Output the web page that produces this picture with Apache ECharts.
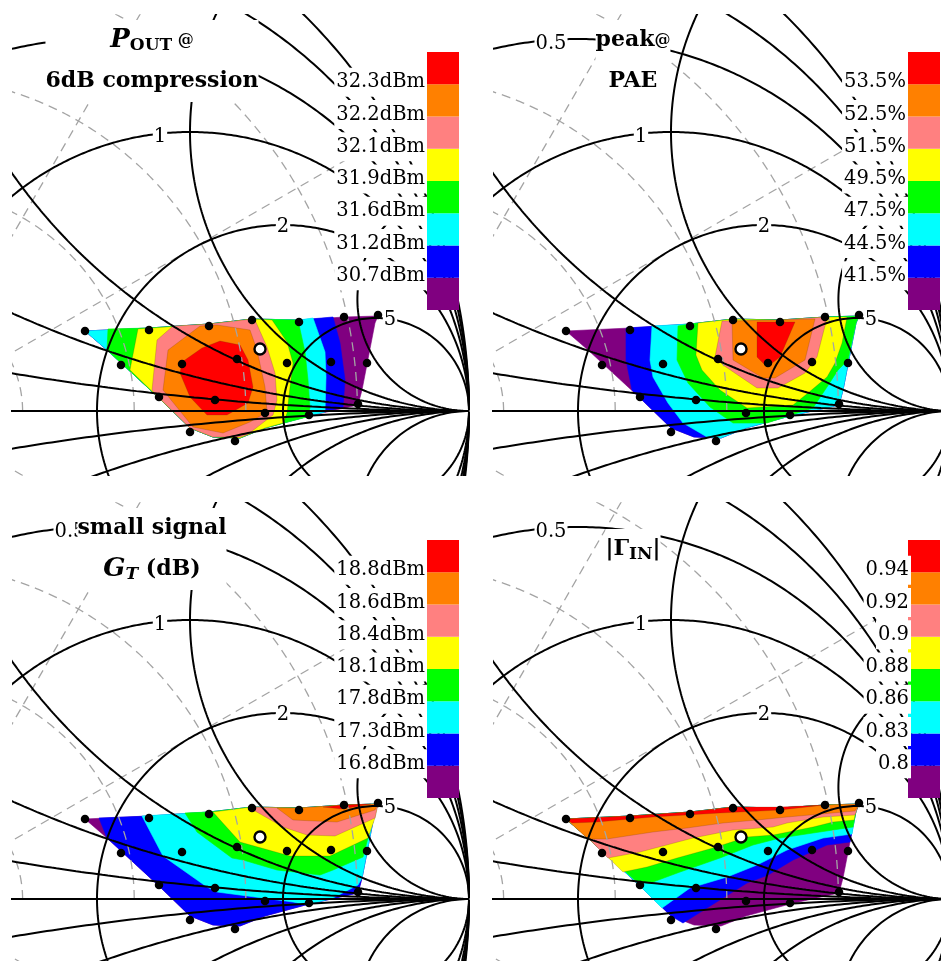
<!DOCTYPE html>
<html><head><meta charset="utf-8">
<script src="https://cdn.jsdelivr.net/npm/echarts@6/dist/echarts.min.js"></script>
<style>html,body{margin:0;background:#fff;overflow:hidden}#c{width:970px;height:970px}</style>
</head><body><div id="c"></div>
<script>
// Reflection-plane units: |Gamma| = 1 corresponds to UNIT on both axes.
const UNIT = 558;
const bandColors = ['#800080','#0000ff','#00ffff','#00ff00','#ffff00','#ff8080','#ff8000','#ff0000'];
const resistances = [0,0.2,0.5,1,2,5];
const reactances = [0.2,0.5,1,2,5];
const gammaCircles = [0.2,0.4,0.6,0.8];
const gammaAngles = [30,60,-30,-60];
const smithLabels = [['0.5',159,367],['1',249,274],['2',372,184],['5',479,91]];
const tuningPoints = [[174,80],[238,81],[298,85],[341,91],[388,89],[433,94],[467,96],[210,46],[271,47],[326,52],[376,48],[420,49],[456,48],[248,14],[304,11],[354,-2],[398,-4],[447,7],[279,-21],[324,-30]];
const optimumPoint = [349,62];
const hull = [[174,80],[238,83],[298,87],[341,92],[388,91],[433,94],[467,95],[464,88],[451,21],[447,6],[398,-5],[354,-17],[329,-27],[302,-26],[279,-17],[248,13],[196,61]];

const poutLabels = ['30.7dBm','31.2dBm','31.6dBm','31.9dBm','32.1dBm','32.2dBm','32.3dBm'];
const paeLabels = ['41.5%','44.5%','47.5%','49.5%','51.5%','52.5%','53.5%'];
const gtLabels = ['16.8dBm','17.3dBm','17.8dBm','18.1dBm','18.4dBm','18.6dBm','18.8dBm'];
const gammaLabels = ['0.8','0.83','0.86','0.88','0.9','0.92','0.94'];

const poutBands = [hull,
 [[174,80],[238,83],[298,87],[341,92],[388,91],[422,94],[429,68],[434,31],[432,4],[398,-5],[354,-17],[329,-27],[302,-26],[279,-17],[248,13],[196,61]],
 [[174,80],[238,83],[298,87],[341,92],[388,91],[402,93],[414,59],[415,34],[414,-1],[398,-5],[354,-17],[329,-27],[302,-26],[279,-17],[248,13],[196,61]],
 [[197,82],[238,83],[298,87],[341,92],[387,91],[394,59],[397,31],[399,3],[396,-6],[354,-17],[329,-27],[302,-26],[279,-17],[248,13],[196,61]],
 [[227,82],[298,87],[341,92],[361,91],[376,69],[382,48],[379,24],[376,-2],[372,-12],[354,-17],[329,-27],[302,-26],[279,-17],[248,13],[219,41]],
 [[262,85],[298,87],[341,92],[344,91],[356,64],[364,38],[366,11],[362,-4],[336,-24],[329,-26],[302,-26],[279,-17],[248,13],[241,21],[246,71]],
 [[289,85],[257,61],[252,21],[282,-16],[312,-22],[339,-11],[356,-1],[354,24],[346,61],[339,81],[306,86]],
 [[309,70],[291,63],[271,49],[269,38],[279,14],[296,-4],[316,-4],[337,8],[342,24],[337,51],[329,66]]];
const paeBands = [hull,
 [[234,83],[298,87],[341,92],[388,91],[433,94],[467,95],[464,88],[451,21],[447,6],[398,-5],[354,-17],[329,-27],[302,-26],[279,-17],[248,13],[240,21],[234,51]],
 [[260,85],[298,87],[341,92],[388,91],[433,94],[467,95],[464,88],[451,21],[447,6],[398,-5],[354,-17],[329,-27],[315,-26],[291,-12],[276,8],[261,34],[258,51]],
 [[286,85],[298,87],[341,92],[388,91],[433,94],[467,95],[464,88],[456,51],[446,41],[435,24],[421,3],[375,-12],[341,-12],[318,4],[296,28],[285,51]],
 [[306,88],[341,92],[388,91],[433,94],[455,94],[450,68],[443,48],[435,34],[416,18],[401,6],[355,3],[328,21],[310,41],[304,56]],
 [[330,90],[388,91],[433,94],[435,93],[425,54],[413,38],[386,23],[365,23],[331,46],[323,54]],
 [[340,90],[388,91],[423,92],[413,51],[383,33],[371,33],[341,51]],
 [[365,89],[403,89],[388,54],[375,44],[365,54]]];
const gtBands = [hull,
 [[188,81],[238,83],[298,87],[341,92],[388,91],[433,94],[467,95],[464,88],[451,21],[447,6],[398,-5],[354,-17],[329,-27],[302,-26],[279,-17],[248,13],[196,61]],
 [[231,83],[298,87],[341,92],[388,91],[433,94],[467,95],[464,88],[451,21],[447,14],[422,1],[396,-6],[382,-3],[306,7],[296,12],[252,43]],
 [[274,86],[298,87],[341,92],[388,91],[433,94],[467,95],[464,88],[457,61],[452,42],[422,29],[409,24],[366,29],[332,39],[321,41],[286,67]],
 [[302,87],[341,92],[388,91],[433,94],[467,95],[464,81],[457,61],[419,43],[379,43],[329,57]],
 [[337,92],[388,91],[433,94],[467,95],[464,81],[424,63],[396,64],[372,72]],
 [[366,91],[388,91],[433,94],[467,95],[464,89],[426,77],[382,79]],
 [[412,92],[433,94],[460,95],[431,90]]];
const gammaBands = [hull,
 [[174,80],[238,83],[298,87],[341,92],[388,91],[433,94],[467,95],[464,88],[458,57],[435,54],[401,39],[376,24],[355,16],[291,-24],[279,-17],[248,13],[196,61]],
 [[174,80],[238,83],[298,87],[341,92],[388,91],[433,94],[467,95],[464,88],[460,65],[431,61],[395,49],[365,34],[335,22],[298,11],[270,-9],[248,13],[196,61]],
 [[174,80],[238,83],[298,87],[341,92],[388,91],[433,94],[467,95],[464,88],[461,72],[421,66],[388,61],[361,54],[328,41],[288,27],[261,17],[246,16],[196,61]],
 [[174,80],[238,83],[298,87],[341,92],[388,91],[433,94],[467,95],[464,88],[462,79],[441,77],[421,72],[381,64],[355,62],[321,51],[285,41],[255,32],[231,27],[196,61]],
 [[174,80],[238,83],[298,87],[341,92],[388,91],[433,94],[467,95],[463,84],[431,82],[395,76],[381,72],[341,69],[301,61],[248,47],[216,41],[196,61]],
 [[174,80],[238,83],[298,87],[341,92],[388,91],[433,94],[467,95],[463,88],[395,82],[365,79],[331,76],[295,71],[261,67],[215,60],[196,60]],
 [[174,80],[238,83],[298,87],[341,92],[388,92],[433,94],[388,89],[328,86],[261,82],[205,77],[180,76]]];

const FONT = '"DejaVu Serif"';
const titleRich = {
  b:{fontFamily:FONT,fontWeight:'bold',fontSize:22,lineHeight:41,color:'#000'},
  i:{fontFamily:FONT,fontWeight:'bold',fontStyle:'italic',fontSize:26,lineHeight:41,color:'#000'},
  s:{fontFamily:FONT,fontWeight:'bold',fontSize:17,lineHeight:41,color:'#000',padding:[10,0,0,0]},
  si:{fontFamily:FONT,fontWeight:'bold',fontStyle:'italic',fontSize:17,lineHeight:41,color:'#000',padding:[10,0,0,0]},
  a:{fontFamily:FONT,fontWeight:'bold',fontSize:16,lineHeight:41,color:'#000'}
};
const panels = [
 {dx:0,dy:0,bands:poutBands,labels:poutLabels,title:'{i|P}{s|OUT}{a| @}\n{b|6dB compression}',lx:0},
 {dx:481,dy:0,bands:paeBands,labels:paeLabels,title:'{b|peak}{a|@}\n{b|PAE}',lx:0},
 {dx:0,dy:488,bands:gtBands,labels:gtLabels,title:'{b|small signal}\n{i|G}{si|T}{b| (dB)}',lx:0},
 {dx:481,dy:488,bands:gammaBands,labels:gammaLabels,title:'{b||Γ}{s|IN}{b||}',lx:3}
];

function gamma(r,x){const d=(r+1)*(r+1)+x*x;return [(r*r+x*x-1)/d*UNIT,2*x/d*UNIT];}
function rCircle(r){const p=[];for(let i=-719;i<=719;i++){const t=i/720*Math.PI/2;p.push(gamma(r,(1+r)*Math.tan(t)));}return p;}
function xArc(x){const p=[];for(let i=0;i<=719;i++){const t=i/720*Math.PI/2;p.push(gamma(Math.abs(x)*Math.tan(t),x));}p.push([UNIT,0]);return p;}
function gCircle(g){const p=[];for(let i=0;i<=720;i++){const t=i/4*Math.PI/180;p.push([g*UNIT*Math.cos(t),g*UNIT*Math.sin(t)]);}return p;}
function radial(a){const t=a*Math.PI/180;return [[0,0],[UNIT*Math.cos(t),UNIT*Math.sin(t)]];}

const grid=[],xAxis=[],yAxis=[],series=[],title=[];
const base={type:'line',symbol:'none',silent:true,animation:false,smooth:false};
panels.forEach((p,k)=>{
  const g=grid.length, cb=g+1;
  grid.push({left:13+p.dx,top:15+p.dy,width:456,height:460,containLabel:false});
  grid.push({left:427+p.dx,top:52+p.dy,width:32,height:258,containLabel:false});
  xAxis.push({type:'value',gridIndex:g,min:102,max:558,show:false});
  yAxis.push({type:'value',gridIndex:g,min:-64,max:396,show:false});
  xAxis.push({type:'value',gridIndex:cb,min:0,max:1,show:false});
  yAxis.push({type:'value',gridIndex:cb,min:0,max:8,show:false});
  const ax={xAxisIndex:g,yAxisIndex:g};
  p.bands.forEach((pts,i)=>{
    series.push({type:'custom',...ax,z:1+i*0.01,silent:true,animation:false,clip:true,data:pts,encode:{x:0,y:1},
      renderItem:(params,api)=>{
        if(params.dataIndex!==pts.length-1) return null;
        return {type:'polygon',shape:{points:pts.map(q=>api.coord(q))},
          style:{fill:bandColors[i],stroke:i>3?'rgba(90,50,0,0.35)':bandColors[i],lineWidth:0.6}};
      }});
  });
  const dashed={color:'#a4a4a4',width:1.3,type:[9,6]};
  gammaCircles.forEach(c=>series.push({...base,...ax,z:2,data:gCircle(c),lineStyle:dashed}));
  gammaAngles.forEach(a=>series.push({...base,...ax,z:2,data:radial(a),lineStyle:dashed}));
  const solid={color:'#000',width:2};
  resistances.forEach(r=>series.push({...base,...ax,z:3,data:rCircle(r),lineStyle:solid}));
  reactances.forEach(x=>{
    series.push({...base,...ax,z:3,data:xArc(x),lineStyle:solid});
    series.push({...base,...ax,z:3,data:xArc(-x),lineStyle:solid});
  });
  series.push({...base,...ax,z:3,data:[[-UNIT,0],[UNIT,0]],lineStyle:{color:'#000',width:2.2}});
  series.push({type:'scatter',...ax,z:5,silent:true,animation:false,symbolSize:0,clip:false,itemStyle:{opacity:1},
    data:smithLabels.map(l=>({name:l[0],value:[l[1],l[2]]})),
    label:{show:true,position:'inside',formatter:'{b}',fontFamily:FONT,fontSize:19.5,color:'#000',backgroundColor:'#fff',padding:[0,1,0,1]}});
  series.push({type:'scatter',...ax,z:6,silent:true,animation:false,symbolSize:8.5,data:tuningPoints,itemStyle:{color:'#000',opacity:1}});
  series.push({type:'scatter',...ax,z:7,silent:true,animation:false,symbolSize:11,data:[optimumPoint],itemStyle:{color:'#fff',borderColor:'#000',borderWidth:2.4,opacity:1}});
  // colour bar
  series.push({type:'custom',xAxisIndex:cb,yAxisIndex:cb,z:8,silent:true,animation:false,clip:false,
    data:bandColors.map((c,i)=>[0,i]),encode:{x:0,y:1},
    renderItem:(params,api)=>{
      const i=params.dataIndex,a=api.coord([0,i+1]),b=api.coord([1,i]);
      return {type:'rect',shape:{x:a[0],y:a[1],width:b[0]-a[0],height:b[1]-a[1]},style:{fill:bandColors[i]}};
    }});
  series.push({type:'scatter',xAxisIndex:cb,yAxisIndex:cb,z:9,silent:true,animation:false,symbolSize:0,clip:false,itemStyle:{opacity:1},
    data:p.labels.map((t,i)=>({name:t,value:[0,i+1]})),
    label:{show:true,position:'left',distance:0,offset:[p.lx,-2],formatter:'{b}',fontFamily:FONT,fontSize:19.5,color:'#000',
      backgroundColor:'#fff',lineHeight:29,height:29,padding:[0,2,0,2]}});
  title.push({text:p.title,left:152+p.dx,top:20+p.dy+(k===3?21:0),textAlign:'center',padding:0,backgroundColor:'#fff',z:20,
    textStyle:{rich:titleRich,fontFamily:FONT,fontWeight:'bold',fontSize:22,lineHeight:41}});
});
const chart=echarts.init(document.getElementById('c'),null,{renderer:'canvas'});
chart.setOption({animation:false,backgroundColor:'#fff',title,grid,xAxis,yAxis,series,tooltip:{show:false},legend:{show:false}});
</script></body></html>
